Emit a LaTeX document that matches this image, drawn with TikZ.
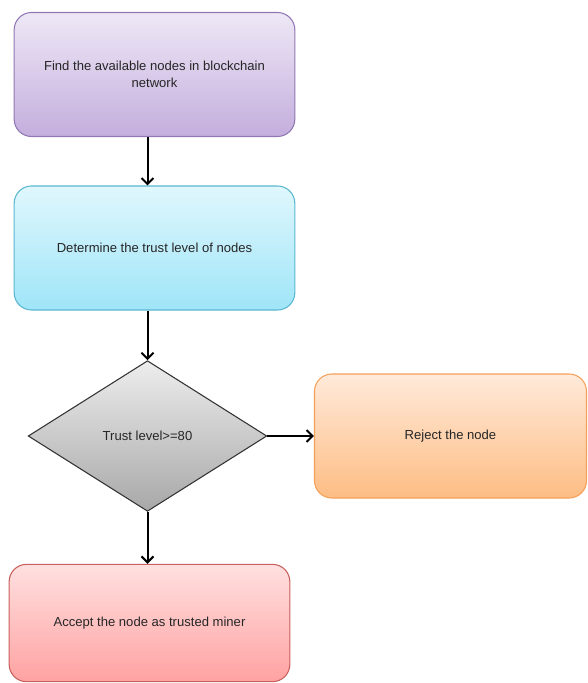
\documentclass[tikz,border=0pt]{standalone}
\usepackage{fontspec}
\setmainfont{Liberation Sans}
\usepackage{tikz}
\usetikzlibrary{shapes.geometric}
\usetikzlibrary{arrows.meta}

\definecolor{purpletop}{HTML}{EEE8F6}
\definecolor{purplebot}{HTML}{C4AEDD}
\definecolor{purpleline}{HTML}{9178B4}
\definecolor{cyantop}{HTML}{E0F7FD}
\definecolor{cyanbot}{HTML}{9FE5F8}
\definecolor{cyanline}{HTML}{5BB7D0}
\definecolor{greytop}{HTML}{EDEDED}
\definecolor{greybot}{HTML}{A8A8A8}
\definecolor{orangetop}{HTML}{FFEADA}
\definecolor{orangebot}{HTML}{FDBD84}
\definecolor{orangeline}{HTML}{F5A05A}
\definecolor{pinktop}{HTML}{FFE0E0}
\definecolor{pinkbot}{HTML}{FFA2A2}
\definecolor{pinkline}{HTML}{C8605C}

\begin{document}
\begin{tikzpicture}[x=0.75pt,y=-0.75pt,
	txt/.style={font=\fontsize{9.8}{12.5}\selectfont, text=black!85, align=center},
	box/.style={txt, rectangle, rounded corners=13pt, line width=0.8pt,
		minimum width=210.5pt, minimum height=93pt, inner sep=0pt},
	dec/.style={txt, diamond, draw=black!80, line width=0.8pt,
		top color=greytop, bottom color=greybot,
		minimum width=179pt, minimum height=113pt, inner sep=0pt},
	arr/.style={-{Straight Barb[length=4.5pt,width=9pt]}, line width=1.5pt}]

\useasboundingbox (0,0) rectangle (588,683);

\node[box, draw=purpleline, top color=purpletop, bottom color=purplebot] (find) at (154.5,74.5)
	{Find the available nodes in blockchain\\network};
\node[box, draw=cyanline, top color=cyantop, bottom color=cyanbot] (trust) at (154.5,248)
	{Determine the trust level of nodes};
\node[dec] (check) at (147.5,436) {Trust level>=80};
\node[box, draw=orangeline, top color=orangetop, bottom color=orangebot,
	minimum width=204pt] (reject) at (450.5,436) {Reject the node};
\node[box, draw=pinkline, top color=pinktop, bottom color=pinkbot,
	minimum height=88pt] (accept) at (149.5,623) {Accept the node as trusted miner};

\draw[arr] (find.south -| check.north) -- (trust.north -| check.north);
\draw[arr] (trust.south -| check.north) -- (check.north);
\draw[arr] (check.east) -- (reject.west);
\draw[arr] (check.south) -- (accept.north -| check.south);

\end{tikzpicture}
\end{document}
